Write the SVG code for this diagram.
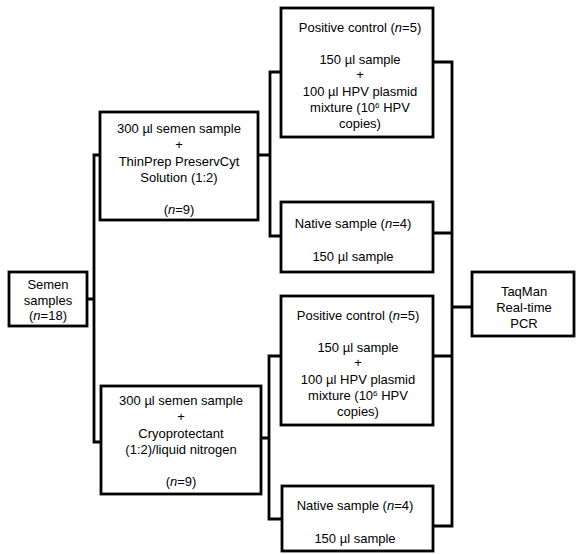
<svg xmlns="http://www.w3.org/2000/svg" width="576" height="554" viewBox="0 0 576 554">
<style>
rect.box{fill:#fff;stroke:#000;stroke-width:2.8}
.conn path{fill:none;stroke:#000;stroke-width:2.8;stroke-linejoin:miter;stroke-linecap:square}
text{font-family:"Liberation Sans",Arial,sans-serif;font-size:13px;fill:#000;text-anchor:middle}
.i{font-style:italic}
.sup{font-size:8px}
</style>
<rect width="576" height="554" fill="#fff"/>
<g id="connectors" class="conn">
<path d="M87,299 H94 M94,155 V442 M94,155 H100 M94,442 H101"/>
<path d="M258,155 H270 M270,72 V236 M270,72 H281 M270,236 H281"/>
<path d="M261,438 H269 M269,356 V519 M269,356 H281 M269,519 H282"/>
<path d="M433,62 H452 M452,62 V526 M433,233 H452 M433,356 H452 M433,526 H452 M452,307 H472"/>
</g>
<g id="semen">
<rect class="box" x="9" y="272" width="78" height="54"/>
<text x="48" y="289">Semen</text>
<text x="48" y="305">samples</text>
<text x="48" y="320">(<tspan class="i">n</tspan>=18)</text>
</g>
<g id="thinprep">
<rect class="box" x="100" y="112" width="158" height="108"/>
<text x="179" y="133">300 µl semen sample</text>
<text x="179" y="149">+</text>
<text x="179" y="166">ThinPrep PreservCyt</text>
<text x="179" y="182">Solution (1:2)</text>
<text x="179" y="214">(<tspan class="i">n</tspan>=9)</text>
</g>
<g id="cryo">
<rect class="box" x="101" y="386" width="160" height="108"/>
<text x="181" y="405">300 µl semen sample</text>
<text x="181" y="421">+</text>
<text x="181" y="438">Cryoprotectant</text>
<text x="181" y="454">(1:2)/liquid nitrogen</text>
<text x="181" y="486">(<tspan class="i">n</tspan>=9)</text>
</g>
<g id="pos1">
<rect class="box" x="281" y="8" width="152" height="129"/>
<text x="360" y="32">Positive control (<tspan class="i">n</tspan>=5)</text>
<text x="360" y="64">150 µl sample</text>
<text x="360" y="79">+</text>
<text x="360" y="96">100 µl HPV plasmid</text>
<text x="360" y="112">mixture (10<tspan class="sup" dy="-4">6</tspan><tspan dy="4"> HPV</tspan></text>
<text x="360" y="128">copies)</text>
</g>
<g id="native1">
<rect class="box" x="281" y="202" width="152" height="70"/>
<text x="353" y="228">Native sample (<tspan class="i">n</tspan>=4)</text>
<text x="353" y="261">150 µl sample</text>
</g>
<g id="pos2">
<rect class="box" x="281" y="296" width="152" height="129"/>
<text x="358" y="320">Positive control (<tspan class="i">n</tspan>=5)</text>
<text x="358" y="352">150 µl sample</text>
<text x="358" y="367">+</text>
<text x="358" y="384">100 µl HPV plasmid</text>
<text x="358" y="400">mixture (10<tspan class="sup" dy="-4">6</tspan><tspan dy="4"> HPV</tspan></text>
<text x="358" y="416">copies)</text>
</g>
<g id="native2">
<rect class="box" x="282" y="486" width="151" height="65"/>
<text x="355" y="510">Native sample (<tspan class="i">n</tspan>=4)</text>
<text x="355" y="543">150 µl sample</text>
</g>
<g id="taqman">
<rect class="box" x="472" y="272" width="102" height="64"/>
<text x="524" y="296">TaqMan</text>
<text x="524" y="312">Real-time</text>
<text x="524" y="328">PCR</text>
</g>
</svg>
